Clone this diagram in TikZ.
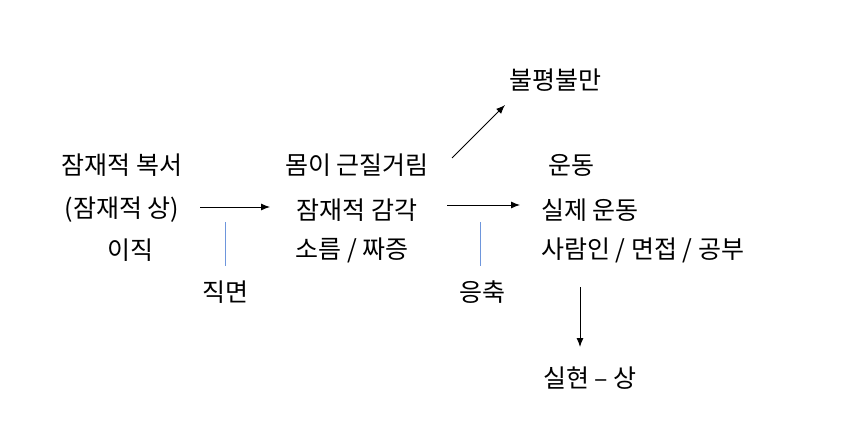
\documentclass[tikz,border=0pt]{standalone}
\usepackage{fontspec}
\usetikzlibrary{arrows.meta}
\setmainfont{Noto Sans CJK KR}
\definecolor{lblue}{RGB}{110,150,220}
\begin{document}
\begin{tikzpicture}[x=1pt,y=-1pt,
  lbl/.style={inner sep=0pt,font=\fontsize{25}{30}\selectfont},
  arr/.style={-{Latex[length=9pt,width=7pt]},line width=0.9pt},
  blu/.style={draw=lblue,line width=1pt}]
\useasboundingbox (0,0) rectangle (868,423);
\node[lbl] (a1) at (122,165) {잠재적 복서};
\node[lbl] (a2) at (122,210) {(잠재적 상)};
\node[lbl] (a3) at (130,250) {이직};
\node[lbl] (b1) at (357,165) {몸이 근질거림};
\node[lbl] (b2) at (357,210) {잠재적 감각};
\node[lbl] (b3) at (352,250) {소름 / 짜증};
\node[lbl] (c0) at (555,80) {불평불만};
\node[lbl] (c1) at (571,165) {운동};
\node[lbl,anchor=west] (c2) at (541,210) {실제 운동};
\node[lbl,anchor=west] (c3) at (541,250) {사람인 / 면접 / 공부};
\node[lbl] (d1) at (590,378) {실현 – 상};
\node[lbl] (f1) at (225,292) {직면};
\node[lbl] (f2) at (482,292) {응축};
\coordinate (p1) at (200,207); \coordinate (p2) at (270,207);
\draw[arr] (p1) -- (p2);
\coordinate (q1) at (447,205); \coordinate (q2) at (520,205);
\draw[arr] (q1) -- (q2);
\coordinate (r1) at (452,158); \coordinate (r2) at (505,105);
\draw[arr] (r1) -- (r2);
\coordinate (s1) at (580,287); \coordinate (s2) at (580,347);
\draw[arr] (s1) -- (s2);
\coordinate (u1) at (225,222); \coordinate (u2) at (225,266);
\draw[blu] (u1) -- (u2);
\coordinate (v1) at (480,222); \coordinate (v2) at (480,266);
\draw[blu] (v1) -- (v2);
\end{tikzpicture}
\end{document}
